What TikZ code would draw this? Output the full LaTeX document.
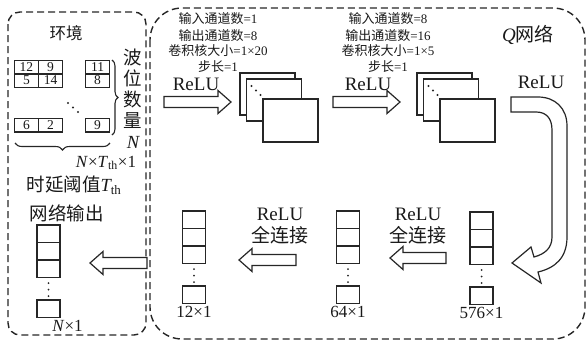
\documentclass[tikz,border=0pt]{standalone}
\usepackage{fontspec}
\setmainfont{Liberation Serif}
\newfontfamily\cjk{Noto Sans CJK SC}
\usetikzlibrary{positioning,decorations.pathreplacing}

\tikzset{
  dashframe/.style={line width=1.4pt,black!85,dash pattern=on 7pt off 4pt},
  gridcell/.style={draw=black!85,line width=1.5pt,minimum width=24pt,minimum height=13.5pt,
    inner sep=0pt,font=\fontsize{13.5}{13.5}\selectfont},
  vcell/.style={draw=black!85,line width=1.4pt,minimum width=23pt,minimum height=17.5pt,inner sep=0pt},
  fmap/.style={draw=black!85,line width=1.4pt,fill=white,minimum width=55pt,minimum height=42pt,inner sep=0pt},
  blockarrow/.style={draw=black!85,line width=1.2pt,fill=white,line join=miter},
  paramtext/.style={font=\fontsize{13}{16}\selectfont,align=center,inner sep=0pt},
  relutext/.style={font=\fontsize{19}{22}\selectfont,align=center,inner sep=0pt},
  cjkbig/.style={font=\fontsize{18.5}{21}\cjk,align=center,inner sep=0pt},
  dimtext/.style={font=\fontsize{17}{17}\selectfont,inner sep=1pt},
}

\begin{document}
\begin{tikzpicture}[x=1pt,y=-1pt,text=black!90]
  \useasboundingbox (0,0) rectangle (587,343);
  % frames
  \draw[dashframe,rounded corners=12pt] (8,12) rectangle (146,335);
  \draw[dashframe,rounded corners=32pt] (150,8) rectangle (585,339);

  % environment
  \node[font=\fontsize{16.5}{16.5}\cjk] (envtitle) at (66,33) {环境};
  \node[gridcell] (g11) at (26.5,67) {12};
  \node[gridcell] (g12) at (50.5,67) {9};
  \node[gridcell] (g21) at (26.5,80.5) {5};
  \node[gridcell] (g22) at (50.5,80.5) {14};
  \node[gridcell] (g1r) at (97.5,67) {11};
  \node[gridcell] (g2r) at (97.5,80.5) {8};
  \node[gridcell] (g31) at (26.5,125) {6};
  \node[gridcell] (g32) at (50.5,125) {2};
  \node[gridcell] (g3r) at (97.5,125) {9};
  \foreach \dx/\dy in {0/0,5/4.5,10/9}
    \fill[black!85] (68+\dx,103+\dy) circle (1.2);
  \draw[decorate,decoration={brace,amplitude=6pt},line width=1.1pt,black!85]
       (112,60) -- (112,135);
  \draw[decorate,decoration={brace,amplitude=7pt},line width=1.1pt,black!85]
       (110,143) -- (15,143);
  \node[cjkbig] (wavelabel) at (133,99) {波\\位\\数\\量\\{\rmfamily\itshape N}};
  \node[dimtext] (envdim) at (106,163)
       {\textit{N}×\textit{T}\textsubscript{th}×1};
  \node[cjkbig] (thlabel) at (74,185) {时延阈值{\rmfamily\itshape T}{\rmfamily\textsubscript{th}}};
  \node[cjkbig] (outtitle) at (67,213) {网络输出};

  % Q network
  \node[font=\fontsize{19}{19}\selectfont,inner sep=0pt] (qtitle) at (528,35) {\textit{Q}{\cjk 网络}};
  \node[paramtext] (conv1) at (218,43)
       {{\cjk 输入通道数}=1\\{\cjk 输出通道数}=8\\{\cjk 卷积核大小}=1×20\\{\cjk 步长}=1};
  \node[paramtext] (conv2) at (388,43)
       {{\cjk 输入通道数}=8\\{\cjk 输出通道数}=16\\{\cjk 卷积核大小}=1×5\\{\cjk 步长}=1};
  \node[relutext] (relu1) at (196,84) {ReLU};
  \node[relutext] (relu2) at (368,84) {ReLU};
  \node[relutext] (relu3) at (541,82) {ReLU};
  \node[relutext] (fc1) at (280,226) {ReLU\\{\cjk 全连接}};
  \node[relutext] (fc2) at (418,226) {ReLU\\{\cjk 全连接}};

  % feature maps
  \foreach \s/\x in {1/267.5,2/444.5}{
    \node[fmap] (fm\s a) at (\x,94) {};
    \node[fmap] (fm\s b) at (\x+6.5,100) {};
    \foreach \dx/\dy in {0/0,4.5/4.5,9/9}
      \fill[black!85] (\x-16+\dx,86+\dy) circle (1.2);
    \node[fmap,minimum height=43pt] (fm\s c) at (\x+23,120.5) {};
  }

  % vectors
  \foreach \v/\x/\top/\dx/\txt in {out/48.5/225/19/{\textit{N}×1},v12/194/211/0/12×1,
                                   v64/348/211/0/64×1,v576/481.5/212/0/576×1}{
    \node[vcell] (\v-1) at (\x,\top+8.75) {};
    \node[vcell] (\v-2) at (\x,\top+26.25) {};
    \node[vcell] (\v-3) at (\x,\top+43.75) {};
    \node[vcell] (\v-4) at (\x,\top+83.75) {};
    \foreach \k in {0,6.5,13}
      \fill[black!85] (\x,\top+58+\k) circle (1);
    \node[dimtext,below=1pt of \v-4,xshift=\dx pt] (\v-dim) {\txt};
  }

  % block arrows
  \foreach \xa/\xb/\y/\d in {164/231/102/1,333/400/102/1,446/390/258/-1,296/239/260/-1,147/90/263/-1}
    \draw[blockarrow] (\xa,\y-5.5) -- ({\xb-13*(\d)},\y-5.5) -- ({\xb-13*(\d)},\y-11.5)
      -- (\xb,\y) -- ({\xb-13*(\d)},\y+11.5) -- ({\xb-13*(\d)},\y+5.5) -- (\xa,\y+5.5) -- cycle;
  \draw[blockarrow] (511,97) -- (538,97) .. controls (555,97) and (567,108) .. (567,126)
    -- (567,237) .. controls (567,258) and (555,268) .. (538,272) -- (541,283) -- (512,263)
    -- (531,247) -- (534,257) .. controls (545,254) and (552,248) .. (552,237)
    -- (552,130) .. controls (552,118) and (546,112) .. (536,112) -- (511,112) -- cycle;
\end{tikzpicture}
\end{document}
